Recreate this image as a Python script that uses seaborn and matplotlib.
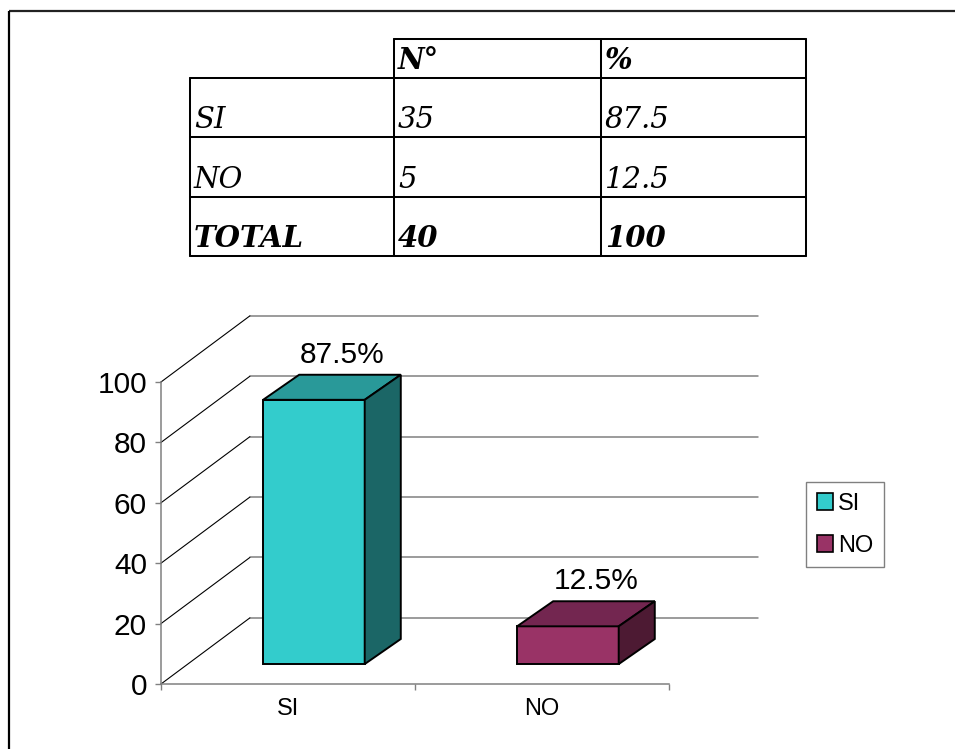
import matplotlib
matplotlib.use("Agg")
import matplotlib.pyplot as plt
import pandas as pd
import seaborn as sns
from matplotlib.patches import Patch, Polygon

# ---- data -------------------------------------------------------------
categories = ["SI", "NO"]
counts = [35, 5]
percents = [87.5, 12.5]
total_count = 40
total_percent = 100
table_header = ["", "N°", "%"]
row_labels = ["SI", "NO", "TOTAL"]
y_ticks = [0, 20, 40, 60, 80, 100]

# ---- styling -----------------------------------------------------------
front_colors = ["#33CCCC", "#993366"]
top_colors = ["#299999", "#732650"]
side_colors = ["#1B6666", "#4D1A33"]
grid_gray = "#808080"

# pseudo-3D depth, in data units (category, value)
FLOOR_DX, FLOOR_DY = 0.350, 21.9
BAR_DX0, BAR_DY0 = 0.102, 6.6
BAR_DX1, BAR_DY1 = 0.244, 14.9

sns.set_style("white")
plt.rcParams["font.family"] = ["Liberation Sans", "DejaVu Sans"]
plt.rcParams["text.color"] = "black"
plt.rcParams["xtick.labelcolor"] = "black"
plt.rcParams["ytick.labelcolor"] = "black"

W, H = 955, 749
fig = plt.figure(figsize=(W / 100, H / 100), dpi=100)


def px_box(left, top, right, bottom):
    return [left / W, 1 - bottom / H, (right - left) / W, (bottom - top) / H]


ax = fig.add_axes(px_box(161, 382, 669, 684))

df = pd.DataFrame({"cat": categories, "pct": percents})
sns.barplot(data=df, x="cat", y="pct", hue="cat", palette=front_colors,
            width=0.4, saturation=1, legend=False, ax=ax, zorder=3)

ax.set_xlim(-0.5, 1.5)
ax.set_ylim(0, 100)

# back wall gridlines and side-wall diagonals
for v in y_ticks:
    ax.plot([-0.5 + FLOOR_DX, 1.5 + FLOOR_DX], [v + FLOOR_DY] * 2,
            color=grid_gray, lw=1.1, clip_on=False, zorder=1)
    ax.plot([-0.5, -0.5 + FLOOR_DX], [v, v + FLOOR_DY],
            color="black", lw=0.8, clip_on=False, zorder=1)

# extrude each bar into a box
for patch in list(ax.patches):
    x0 = patch.get_x()
    w = patch.get_width()
    h = patch.get_height()
    i = int(round(x0 + w / 2))
    patch.set_x(x0 + BAR_DX0)
    patch.set_y(BAR_DY0)
    patch.set_edgecolor("black")
    patch.set_linewidth(1.4)
    patch.set_clip_on(False)
    top = Polygon([(x0 + BAR_DX0, h + BAR_DY0), (x0 + w + BAR_DX0, h + BAR_DY0),
                   (x0 + w + BAR_DX1, h + BAR_DY1), (x0 + BAR_DX1, h + BAR_DY1)],
                  closed=True, facecolor=top_colors[i], edgecolor="black",
                  lw=1.4, clip_on=False, zorder=3)
    side = Polygon([(x0 + w + BAR_DX0, BAR_DY0), (x0 + w + BAR_DX1, BAR_DY1),
                    (x0 + w + BAR_DX1, h + BAR_DY1), (x0 + w + BAR_DX0, h + BAR_DY0)],
                   closed=True, facecolor=side_colors[i], edgecolor="black",
                   lw=1.4, clip_on=False, zorder=3)
    ax.add_patch(top)
    ax.add_patch(side)

# value labels
for i, p in enumerate(percents):
    ax.annotate(f"{p:g}%", xy=(i, p), xytext=(39, 41), textcoords="offset points",
                ha="center", va="baseline", fontsize=21.5, color="black",
                annotation_clip=False)

# axes decoration
ax.set_xlabel("")
ax.set_ylabel("")
ax.set_yticks(y_ticks)
ax.set_yticklabels([str(t) for t in y_ticks])
ax.set_xticks([0, 1])
ax.set_xticklabels(categories)
ax.set_xticks([-0.5, 0.5, 1.5], minor=True)
ax.tick_params(axis="y", which="major", length=4.3, width=1, color=grid_gray,
               pad=5.8, labelsize=21.5, left=True, labelcolor="black")
ax.tick_params(axis="x", which="major", length=0, pad=10.4, labelsize=17,
               labelcolor="black")
ax.tick_params(axis="x", which="minor", length=4.3, width=1, color=grid_gray,
               direction="out", bottom=True)
for s in ["top", "right"]:
    ax.spines[s].set_visible(False)
for s in ["left", "bottom"]:
    ax.spines[s].set_color(grid_gray)
    ax.spines[s].set_linewidth(1.1)
ax.patch.set_alpha(0)

# legend
handles = [Patch(facecolor=c, edgecolor="black", linewidth=1.2) for c in front_colors]
leg = fig.legend(handles, categories, loc="upper left",
                 bbox_to_anchor=(806 / W, 1 - 482 / H), borderaxespad=0,
                 fontsize=17, handlelength=0.7, handleheight=0.7,
                 handletextpad=0.22, labelspacing=0.85, borderpad=0.45,
                 fancybox=False, framealpha=1)
leg.get_frame().set_edgecolor(grid_gray)
leg.get_frame().set_linewidth(1.0)
for t in leg.get_texts():
    t.set_color("black")

# ---- overlay: outer frame and data table --------------------------------
ov = fig.add_axes([0, 0, 1, 1])
ov.set_xlim(0, W)
ov.set_ylim(H, 0)
ov.axis("off")

ov.plot([9, W + 5], [11, 11], color="#222222", lw=1.6, solid_capstyle="butt")
ov.plot([9, 9], [11, H + 5], color="black", lw=1.6, solid_capstyle="butt")

col_x = [190, 394, 601, 806]
row_y = [39, 78, 137, 197, 256]
tlw = 1.45
ov.plot([col_x[1], col_x[3]], [row_y[0]] * 2, color="black", lw=tlw)
for y in row_y[1:]:
    ov.plot([col_x[0], col_x[3]], [y, y], color="black", lw=tlw)
ov.plot([col_x[0]] * 2, [row_y[1], row_y[4]], color="black", lw=tlw)
for x in col_x[1:]:
    ov.plot([x, x], [row_y[0], row_y[4]], color="black", lw=tlw)

rows = [table_header,
        [row_labels[0], str(counts[0]), f"{percents[0]:g}"],
        [row_labels[1], str(counts[1]), f"{percents[1]:g}"],
        [row_labels[2], str(total_count), f"{total_percent:g}"]]
for r, cells in enumerate(rows):
    bold = r in (0, 3)
    for c, txt in enumerate(cells):
        if not txt:
            continue
        ov.text(col_x[c] + 4, row_y[r + 1] - 9, txt, family="DejaVu Serif",
                style="italic", weight="bold" if bold else "normal",
                fontsize=21, ha="left", va="baseline", color="black")

fig.savefig("out.png", dpi=100)
